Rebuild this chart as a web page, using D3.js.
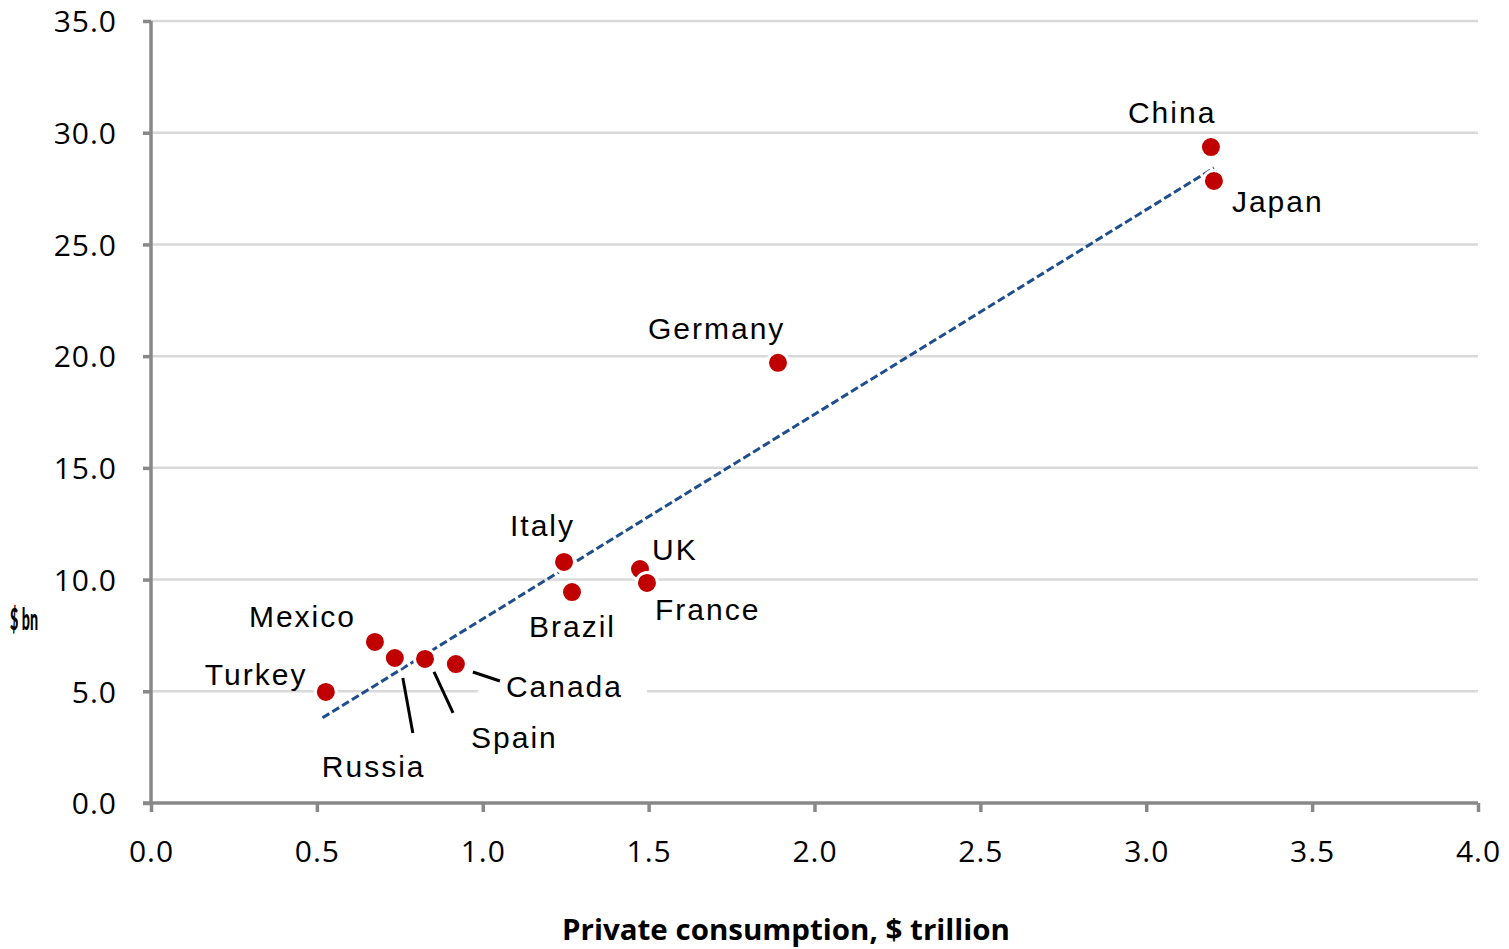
<!DOCTYPE html>
<html>
<head>
<meta charset="utf-8">
<script src="https://cdn.jsdelivr.net/npm/d3@7"></script>
<style>
  html, body { margin: 0; padding: 0; background: #fff; }
  svg { display: block; }
</style>
</head>
<body>
<svg id="chart" width="1509" height="949"></svg>
<script>
// Country data: private consumption ($ trillion) vs. value on y axis
const countries = ["Turkey", "Mexico", "Russia", "Spain", "Canada", "Italy", "Brazil", "UK", "France", "Germany", "China", "Japan"];
const consumption = [0.527, 0.675, 0.735, 0.826, 0.919, 1.245, 1.269, 1.474, 1.495, 1.890, 3.195, 3.204];
const values = [4.97, 7.21, 6.49, 6.45, 6.22, 10.79, 9.44, 10.47, 9.85, 19.70, 29.36, 27.84];

const xTicks = [0, 0.5, 1.0, 1.5, 2.0, 2.5, 3.0, 3.5, 4.0];
const yTicks = [0, 5, 10, 15, 20, 25, 30, 35];
const xTitle = "Private consumption, $ trillion";
const yTitle = "$ bn";

// Label placement relative to each point (pixels): text start offset and optional leader line
const labelLayout = {
  Turkey:  { dx: -121, dy: -7 },
  Mexico:  { dx: -126, dy: -15 },
  Russia:  { dx: -73,  dy: 119, leader: [8, 20, 18, 75] },
  Spain:   { dx: 46,   dy: 89,  leader: [9, 13, 28, 54] },
  Canada:  { dx: 50,   dy: 33,  leader: [17, 8, 44, 17], box: true },
  Italy:   { dx: -54,  dy: -26 },
  Brazil:  { dx: -43,  dy: 45 },
  UK:      { dx: 12,   dy: -9 },
  France:  { dx: 8,    dy: 37 },
  Germany: { dx: -130, dy: -24 },
  China:   { dx: -83,  dy: -24 },
  Japan:   { dx: 18,   dy: 31 }
};

const svg = d3.select("#chart");
const margin = { left: 151, right: 31, top: 21, bottom: 146 };
const W = 1509, H = 949;

const x = d3.scaleLinear().domain([0, 4]).range([margin.left, W - margin.right]);
const y = d3.scaleLinear().domain([0, 35]).range([H - margin.bottom, margin.top]);

const tickFont = "'Open Sans', sans-serif";
const labelFont = "'Liberation Sans', Arial, sans-serif";

// Horizontal gridlines
svg.append("g")
  .selectAll("line")
  .data(yTicks.filter(d => d > 0))
  .join("line")
  .attr("x1", x(0)).attr("x2", x(4))
  .attr("y1", d => y(d)).attr("y2", d => y(d))
  .attr("stroke", "#d9d9d9")
  .attr("stroke-width", 2.5);

// Y axis
const yAxis = svg.append("g")
  .attr("transform", `translate(${x(0)},0)`)
  .call(d3.axisLeft(y).tickValues(yTicks).tickFormat(d3.format(".1f")).tickSize(8).tickPadding(26));
// X axis
const xAxis = svg.append("g")
  .attr("transform", `translate(0,${y(0)})`)
  .call(d3.axisBottom(x).tickValues(xTicks).tickFormat(d3.format(".1f")).tickSize(9).tickPadding(35));

[yAxis, xAxis].forEach(ax => {
  ax.select(".domain").attr("stroke", "#888").attr("stroke-width", 3.5);
  ax.selectAll(".tick line").attr("stroke", "#888").attr("stroke-width", 3.5);
  ax.selectAll(".tick text")
    .attr("fill", "#000")
    .style("font-family", tickFont)
    .style("font-size", "30px")
    .style("letter-spacing", "1px");
});
xAxis.select(".domain").attr("d", `M${x(0) - 8},0H${x(4)}`);
yAxis.select(".domain").attr("d", `M0,${y(35)}V${y(0)}`);
yAxis.selectAll(".tick text").attr("dy", "0.36em");
xAxis.selectAll(".tick text").attr("dy", "0.5em");

// Least-squares trend line across the data range
const n = consumption.length;
const mx = d3.mean(consumption), my = d3.mean(values);
let sxy = 0, sxx = 0;
for (let i = 0; i < n; i++) {
  sxy += (consumption[i] - mx) * (values[i] - my);
  sxx += (consumption[i] - mx) ** 2;
}
const slope = sxy / sxx, intercept = my - slope * mx;
const [xmin, xmax] = d3.extent(consumption);

// Label backgrounds (drawn under marks)
const labels = svg.append("g");

// Leader lines
countries.forEach((c, i) => {
  const L = labelLayout[c];
  if (!L.leader) return;
  const px = x(consumption[i]), py = y(values[i]);
  svg.append("line")
    .attr("x1", px + L.leader[0]).attr("y1", py + L.leader[1])
    .attr("x2", px + L.leader[2]).attr("y2", py + L.leader[3])
    .attr("stroke", "#000").attr("stroke-width", 3);
});

svg.append("line")
  .attr("x1", x(xmin - 0.01)).attr("y1", y(intercept + slope * (xmin - 0.01)))
  .attr("x2", x(xmax)).attr("y2", y(intercept + slope * xmax))
  .attr("stroke", "#1f4e8c")
  .attr("stroke-width", 3)
  .attr("stroke-dasharray", "8,3.5");

// Points
svg.append("g")
  .selectAll("circle")
  .data(countries.map((c, i) => ({ c, x: consumption[i], y: values[i] })))
  .join("circle")
  .attr("cx", d => x(d.x))
  .attr("cy", d => y(d.y))
  .attr("r", 10.5)
  .attr("fill", "#c00000")
  .attr("stroke", "#fff")
  .attr("stroke-width", 3);

// Point labels
countries.forEach((c, i) => {
  const L = labelLayout[c];
  const px = x(consumption[i]), py = y(values[i]);
  const t = labels.append("text")
    .attr("x", px + L.dx).attr("y", py + L.dy)
    .style("font-family", labelFont)
    .style("font-size", "30px")
    .style("letter-spacing", "2px")
    .attr("fill", "#000")
    .text(c);
  if (L.box) {
    const b = t.node().getBBox();
    labels.insert("rect", "text")
      .attr("x", b.x - 28).attr("y", b.y)
      .attr("width", b.width + 52).attr("height", b.height)
      .attr("fill", "#fff");
  }
});

// Axis titles
svg.append("text")
  .attr("x", 562).attr("y", 940)
  .attr("textLength", 448)
  .attr("lengthAdjust", "spacingAndGlyphs")
  .style("font-family", "'Open Sans', sans-serif")
  .style("font-weight", "bold")
  .style("font-size", "28px")
  .attr("fill", "#000")
  .text(xTitle);

svg.append("text")
  .attr("x", 10).attr("y", 630)
  .attr("textLength", 28)
  .attr("lengthAdjust", "spacingAndGlyphs")
  .style("font-family", "Lato, sans-serif")
  .style("font-weight", "900")
  .style("font-size", "30px")
  .attr("fill", "#000")
  .text(yTitle);
</script>
</body>
</html>
